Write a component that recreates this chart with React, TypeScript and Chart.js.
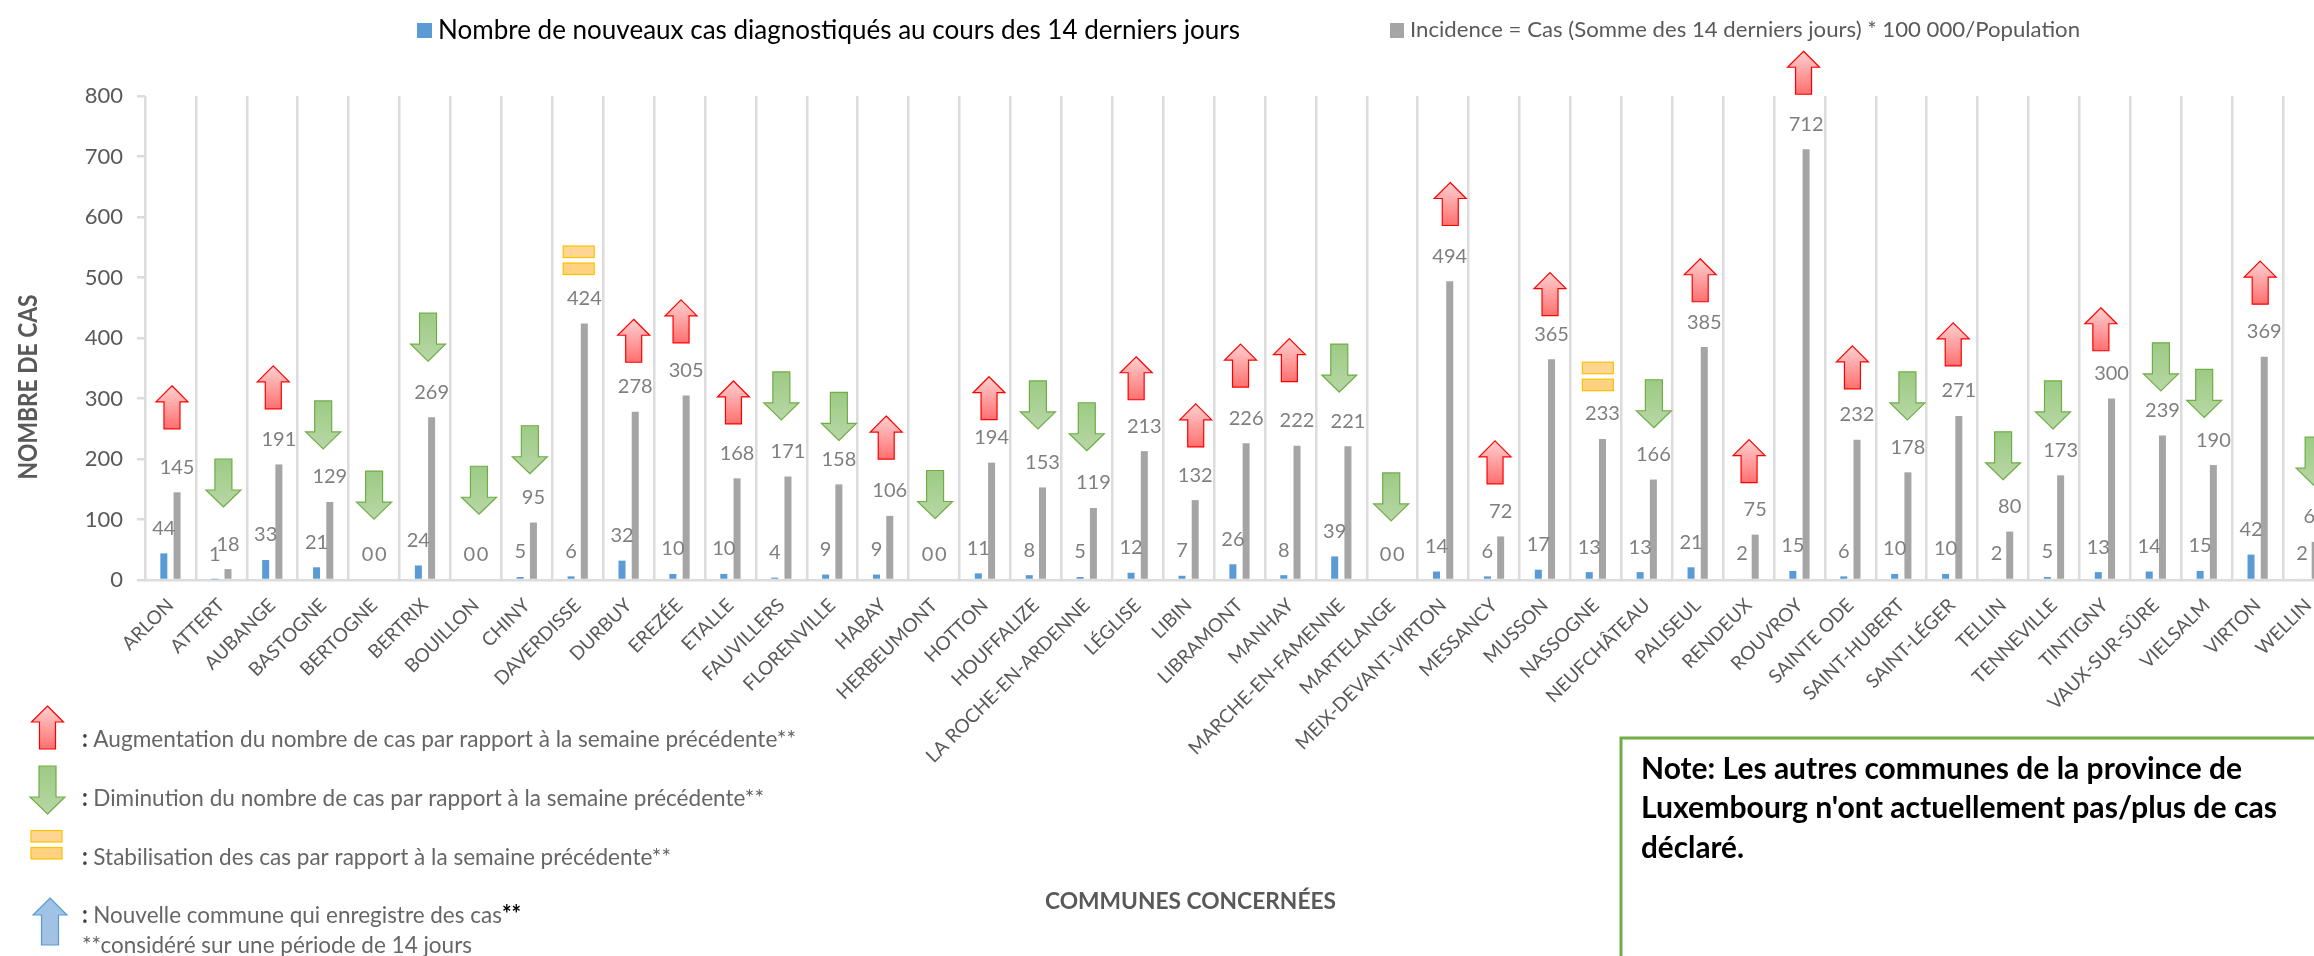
import React, { useEffect, useRef } from "react";
import { Chart, registerables } from "chart.js";

Chart.register(...registerables);

const communes = ["ARLON","ATTERT","AUBANGE","BASTOGNE","BERTOGNE","BERTRIX","BOUILLON","CHINY","DAVERDISSE","DURBUY","EREZÉE","ETALLE","FAUVILLERS","FLORENVILLE","HABAY","HERBEUMONT","HOTTON","HOUFFALIZE","LA ROCHE-EN-ARDENNE","LÉGLISE","LIBIN","LIBRAMONT","MANHAY","MARCHE-EN-FAMENNE","MARTELANGE","MEIX-DEVANT-VIRTON","MESSANCY","MUSSON","NASSOGNE","NEUFCHÂTEAU","PALISEUL","RENDEUX","ROUVROY","SAINTE ODE","SAINT-HUBERT","SAINT-LÉGER","TELLIN","TENNEVILLE","TINTIGNY","VAUX-SUR-SÛRE","VIELSALM","VIRTON","WELLIN"];
const nouveauxCas = [44,1,33,21,0,24,0,5,6,32,10,10,4,9,9,0,11,8,5,12,7,26,8,39,0,14,6,17,13,13,21,2,15,6,10,10,2,5,13,14,15,42,2];
const incidence = [145,18,191,129,0,269,0,95,424,278,305,168,171,158,106,0,194,153,119,213,132,226,222,221,0,494,72,365,233,166,385,75,712,232,178,271,80,173,300,239,190,369,63];
const yTicks = [0,100,200,300,400,500,600,700,800];
// trend marker per commune: u = up, d = down, s = stable
const trend = ["u","d","u","d","d","d","d","d","s","u","u","u","d","d","u","d","u","d","d","u","u","u","u","d","d","u","u","u","s","d","u","u","u","u","d","u","d","d","u","d","d","u","d"];
// top of each marker, read in y-axis units
const trendLevel = [321,200,354,296,180,441,188,255,552,431,463,329,344,310,271,181,336,329,293,369,291,390,399,390,177,657,230,508,360,331,531,232,874,387,344,425,245,329,450,392,348,527,236];
// marker drift from the category centre, in category units
const trendDrift = [0.03,0.04,0.02,0,0,0.06,0.06,0.06,0.02,0.1,0.03,0.06,0,0.13,0.06,0.02,0.08,0.04,0,-0.03,0.14,0.02,-0.02,-0.04,-0.02,0.14,0.02,0.1,0.04,0.14,0.05,0.01,0.08,0.04,0.12,0.02,0,-0.02,-0.08,0.1,-0.05,0.05,0.1];

const FONT = "Lato";
const serieA = "Nombre de nouveaux cas diagnostiqués au cours des 14 derniers jours";
const serieB = "Incidence = Cas (Somme des 14 derniers jours) * 100 000/Population";

type Seg = { t: string; font: string; color: string };

function fitted(ctx: CanvasRenderingContext2D, segs: Seg[], x: number, y: number, width: number) {
  ctx.save();
  ctx.textBaseline = "middle";
  ctx.textAlign = "left";
  let total = 0;
  const widths = segs.map((s) => {
    ctx.font = s.font;
    const w = ctx.measureText(s.t).width;
    total += w;
    return w;
  });
  ctx.translate(x, y);
  ctx.scale(width / total, 1);
  let cx = 0;
  segs.forEach((s, i) => {
    ctx.font = s.font;
    ctx.fillStyle = s.color;
    ctx.fillText(s.t, cx, 0);
    cx += widths[i];
  });
  ctx.restore();
}

function arrow(ctx: CanvasRenderingContext2D, cx: number, top: number, w: number, h: number, shaft: number, head: number, dir: "up" | "down", c0: string, c1: string, stroke: string) {
  const g = ctx.createLinearGradient(0, top, 0, top + h);
  g.addColorStop(0, c0);
  g.addColorStop(1, c1);
  ctx.beginPath();
  if (dir === "up") {
    ctx.moveTo(cx, top);
    ctx.lineTo(cx + w / 2, top + head);
    ctx.lineTo(cx + shaft / 2, top + head);
    ctx.lineTo(cx + shaft / 2, top + h);
    ctx.lineTo(cx - shaft / 2, top + h);
    ctx.lineTo(cx - shaft / 2, top + head);
    ctx.lineTo(cx - w / 2, top + head);
  } else {
    ctx.moveTo(cx, top + h);
    ctx.lineTo(cx + w / 2, top + h - head);
    ctx.lineTo(cx + shaft / 2, top + h - head);
    ctx.lineTo(cx + shaft / 2, top);
    ctx.lineTo(cx - shaft / 2, top);
    ctx.lineTo(cx - shaft / 2, top + h - head);
    ctx.lineTo(cx - w / 2, top + h - head);
  }
  ctx.closePath();
  ctx.fillStyle = g;
  ctx.fill();
  ctx.lineWidth = 1.2;
  ctx.strokeStyle = stroke;
  ctx.stroke();
}

const redUp = (ctx: CanvasRenderingContext2D, cx: number, top: number) =>
  arrow(ctx, cx, top, 32, 43, 16, 16, "up", "#ffd0d0", "#ff7070", "#ff0000");
const greenDown = (ctx: CanvasRenderingContext2D, cx: number, top: number) =>
  arrow(ctx, cx, top, 35, 48, 17, 17, "down", "#9ccb84", "#b8d7a6", "#70ad47");
const blueUp = (ctx: CanvasRenderingContext2D, cx: number, top: number) =>
  arrow(ctx, cx, top, 34, 47, 17, 17, "up", "#9dc3e6", "#a4c2e4", "#5b9bd5");
function equal(ctx: CanvasRenderingContext2D, cx: number, top: number) {
  ctx.lineWidth = 1.2;
  ctx.strokeStyle = "#ffc000";
  ctx.fillStyle = "#ffd691";
  ctx.fillRect(cx - 15.5, top, 31, 11.5);
  ctx.strokeRect(cx - 15.5, top, 31, 11.5);
  ctx.fillStyle = "#ffd27f";
  ctx.fillRect(cx - 15.5, top + 17, 31, 11.5);
  ctx.strokeRect(cx - 15.5, top + 17, 31, 11.5);
}

const valueLabels = {
  id: "valueLabels",
  afterDatasetsDraw(chart: any) {
    const ctx = chart.ctx as CanvasRenderingContext2D;
    ctx.save();
    ctx.font = `20px ${FONT}`;
    ctx.fillStyle = "#7f7f7f";
    ctx.textAlign = "center";
    ctx.textBaseline = "middle";
    chart.data.datasets.forEach((ds: any, i: number) => {
      chart.getDatasetMeta(i).data.forEach((el: any, k: number) => {
        ctx.fillText(String(ds.data[k]), el.x, el.y - 25);
      });
    });
    ctx.restore();
  },
};

const trendMarkers = {
  id: "trendMarkers",
  afterDatasetsDraw(chart: any) {
    const ctx = chart.ctx as CanvasRenderingContext2D;
    const xs = chart.scales.x;
    const ys = chart.scales.y;
    const step = xs.getPixelForValue(1) - xs.getPixelForValue(0);
    trend.forEach((kind, k) => {
      const cx = xs.getPixelForValue(k) + trendDrift[k] * step;
      const top = ys.getPixelForValue(trendLevel[k]);
      if (kind === "u") redUp(ctx, cx, top);
      else if (kind === "d") greenDown(ctx, cx, top);
      else equal(ctx, cx, top);
    });
  },
};

const page = {
  id: "page",
  afterDraw(chart: any) {
    const ctx = chart.ctx as CanvasRenderingContext2D;
    const grey = "#666666";
    // series key
    ctx.fillStyle = "#5b9bd5";
    ctx.fillRect(417, 23, 15, 15);
    fitted(ctx, [{ t: serieA, font: `27px ${FONT}`, color: "#000000" }], 438, 30, 802);
    ctx.fillStyle = "#a5a5a5";
    ctx.fillRect(1390, 23, 14, 15);
    fitted(ctx, [{ t: serieB, font: `22px ${FONT}`, color: "#595959" }], 1410, 30, 670);
    // axis titles
    ctx.save();
    ctx.translate(29, 387);
    ctx.rotate(-Math.PI / 2);
    fitted(ctx, [{ t: "NOMBRE DE CAS", font: `bold 26px ${FONT}`, color: "#595959" }], -92.5, 0, 185);
    ctx.restore();
    fitted(ctx, [{ t: "COMMUNES CONCERNÉES", font: `bold 23px ${FONT}`, color: "#595959" }], 1045, 902, 291);
    // marker key
    redUp(ctx, 47.5, 706);
    greenDown(ctx, 47.5, 766);
    equal(ctx, 46.5, 830.5);
    blueUp(ctx, 50, 898);
    const colon = { t: ": ", font: `bold 24px ${FONT}`, color: "#404040" };
    const reg = (t: string) => ({ t, font: `24px ${FONT}`, color: grey });
    fitted(ctx, [colon, reg("Augmentation du nombre de cas par rapport à la semaine précédente**")], 82, 739, 714);
    fitted(ctx, [colon, reg("Diminution du nombre de cas par rapport à la semaine précédente**")], 82, 798, 682);
    fitted(ctx, [colon, reg("Stabilisation des cas par rapport à la semaine précédente**")], 82, 857, 589);
    fitted(ctx, [colon, reg("Nouvelle commune qui enregistre des cas"), { t: "**", font: `bold 24px ${FONT}`, color: "#000000" }], 82, 915, 439);
    fitted(ctx, [reg("**considéré sur une période de 14 jours")], 82, 945, 390);
    // note
    ctx.save();
    ctx.strokeStyle = "#70ad47";
    ctx.lineWidth = 3;
    ctx.strokeRect(1621, 738, 900, 400);
    ctx.restore();
    const note = (t: string) => [{ t, font: `bold 30px ${FONT}`, color: "#000000" }];
    fitted(ctx, note("Note: Les autres communes de la province de"), 1641, 769, 601);
    fitted(ctx, note("Luxembourg n'ont actuellement pas/plus de cas"), 1641, 808, 636);
    fitted(ctx, note("déclaré."), 1641, 848, 103);
  },
};

export default function App() {
  const ref = useRef<HTMLCanvasElement>(null);
  useEffect(() => {
    const chart = new Chart(ref.current as HTMLCanvasElement, {
      type: "bar",
      data: {
        labels: communes,
        datasets: [
          { label: serieA, data: nouveauxCas, backgroundColor: "#5b9bd5", categoryPercentage: 0.52, barPercentage: 0.53 },
          { label: serieB, data: incidence, backgroundColor: "#a5a5a5", categoryPercentage: 0.52, barPercentage: 0.53 },
        ],
      },
      options: {
        responsive: false,
        animation: false,
        devicePixelRatio: 1,
        layout: { padding: { top: 96, right: 16, left: 0, bottom: 0 } },
        plugins: { legend: { display: false }, title: { display: false }, tooltip: { enabled: false } },
        scales: {
          x: {
            type: "category",
            offset: true,
            afterFit(s: any) { s.height = 376; },
            grid: { color: "#dcdcdc", lineWidth: 2.5, offset: true, drawTicks: false, drawOnChartArea: true },
            border: { color: "#dcdcdc", width: 2.5 },
            ticks: { autoSkip: false, minRotation: 45, maxRotation: 45, padding: 14, color: "#595959", font: { family: FONT, size: 19 } },
          },
          y: {
            min: 0,
            max: 800,
            afterFit(s: any) { s.width = 145; },
            afterBuildTicks(s: any) { s.ticks = yTicks.map((value) => ({ value })); },
            grid: { drawOnChartArea: false, drawTicks: true, tickLength: 8, color: "#dcdcdc", lineWidth: 2.5 },
            border: { display: false },
            ticks: { padding: 14, color: "#595959", font: { family: FONT, size: 22 } },
          },
        },
      } as any,
      plugins: [trendMarkers, valueLabels, page],
    });
    return () => chart.destroy();
  }, []);
  return (
    <div style={{ position: "absolute", left: 0, top: 0, width: 2314, height: 956, overflow: "hidden", background: "#fff" }}>
      <canvas ref={ref} width={2350} height={956} style={{ display: "block" }} />
    </div>
  );
}
